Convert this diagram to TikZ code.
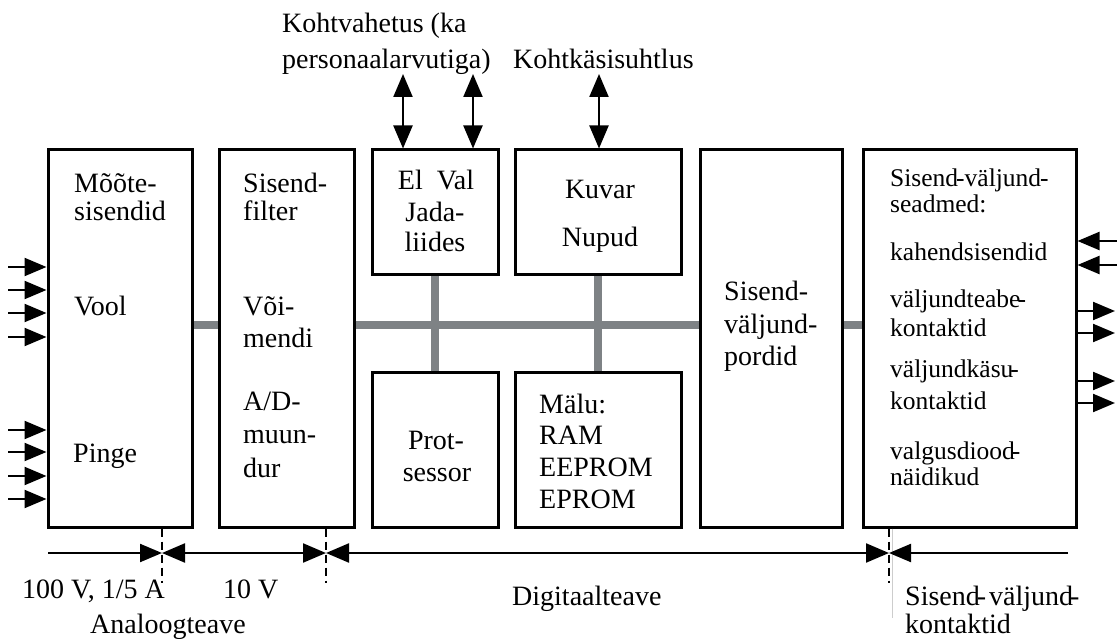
\documentclass[tikz,border=0pt]{standalone}
\usepackage{fontspec}
\setmainfont{Liberation Serif}
\usetikzlibrary{arrows.meta,positioning}
\definecolor{busgray}{RGB}{126,130,133}
\definecolor{thingray}{RGB}{205,205,205}
\newcommand{\bigfont}{\fontsize{28}{30}\selectfont}
\newcommand{\boxfont}{\fontsize{25.5}{28}\selectfont}

\begin{document}
\begin{tikzpicture}[x=1pt, y=-1pt,
    box/.style={draw, line width=3pt, inner sep=0pt},
    lbl/.style={anchor=base west, inner sep=0pt, font=\bigfont},
    clbl/.style={anchor=base, inner sep=0pt, font=\bigfont},
    slbl/.style={anchor=base west, inner sep=0pt, font=\boxfont},
    arr/.style={line width=2.2pt, -{Triangle[length=22pt,width=18pt]}},
    dblarr/.style={line width=2.2pt, {Triangle[length=23pt,width=19pt]}-{Triangle[length=23pt,width=19pt]}},
    bus/.style={line width=8pt, busgray},
    cutline/.style={line width=2pt, dash pattern=on 8pt off 5pt}]
  \useasboundingbox (0,0) rectangle (1117,639);

  % blocks
  \node[box, minimum width=144pt, minimum height=377pt] (mote) at (120,338.5) {};
  \node[box, minimum width=135pt, minimum height=377pt] (filter) at (286.5,338.5) {};
  \node[box, minimum width=126pt, minimum height=125pt] (jada) at (435,212.5) {};
  \node[box, minimum width=166pt, minimum height=125pt] (kuvar) at (598,212.5) {};
  \node[box, minimum width=126pt, minimum height=155pt] (prots) at (435,449.5) {};
  \node[box, minimum width=166pt, minimum height=155pt] (malu) at (598,449.5) {};
  \node[box, minimum width=142pt, minimum height=377pt] (pordid) at (771,338.5) {};
  \node[box, minimum width=213pt, minimum height=377pt] (seadmed) at (969.5,338.5) {};

  % bus
  \coordinate (siin) at (0,325);
  \draw[bus] (siin -| mote.east) -- (siin -| filter.west);
  \draw[bus] (siin -| filter.east) -- (siin -| pordid.west);
  \draw[bus] (siin -| pordid.east) -- (siin -| seadmed.west);
  \draw[bus] (jada.south) -- (prots.north);
  \draw[bus] (kuvar.south) -- (malu.north);

  % block texts
  \node[lbl] (mote1) at (74,193) {Mõõte-};
  \node[lbl] (mote2) at (74,221) {sisendid};
  \node[lbl] (vool) at (74,316) {Vool};
  \node[lbl] (pinge) at (73,462) {Pinge};
  \node[lbl] (filter1) at (243,193) {Sisend-};
  \node[lbl] (filter2) at (243,221) {filter};
  \node[lbl] (voim1) at (243,316) {Või-};
  \node[lbl] (voim2) at (243,347) {mendi};
  \node[lbl] (ad1) at (243,410) {A/D-};
  \node[lbl] (ad2) at (243,443) {muun-};
  \node[lbl] (ad3) at (243,477) {dur};
  \node[clbl] (jada1) at (436,190) {El\ \ Val};
  \node[clbl] (jada2) at (435,222) {Jada-};
  \node[clbl] (jada3) at (435,252) {liides};
  \node[clbl] (kuvar1) at (600,199) {Kuvar};
  \node[clbl] (kuvar2) at (600,247) {Nupud};
  \node[clbl] (prots1) at (436,449) {Prot-};
  \node[clbl] (prots2) at (437,481) {sessor};
  \node[lbl] (malu1) at (539,413) {Mälu:};
  \node[lbl] (malu2) at (539,444) {RAM};
  \node[lbl] (malu3) at (539,476) {EEPROM};
  \node[lbl] (malu4) at (539,508) {EPROM};
  \node[lbl] (pordid1) at (724,301) {Sisend-};
  \node[lbl] (pordid2) at (724,333) {väljund-};
  \node[lbl] (pordid3) at (724,365) {pordid};
  \node[slbl] (seadmed1) at (890,187) {Sisend\kern-2pt-väljund\kern-1pt-};
  \node[slbl] (seadmed2) at (890,213) {seadmed:};
  \node[slbl] (kahend) at (890,261) {kahendsisendid};
  \node[slbl] (teabe1) at (890,307) {väljundteabe\kern-3pt-};
  \node[slbl] (teabe2) at (890,336) {kontaktid};
  \node[slbl] (kasu1) at (890,377) {väljundkäsu\kern-3pt-};
  \node[slbl] (kasu2) at (890,409) {kontaktid};
  \node[slbl] (diood1) at (890,459) {valgusdiood\kern-3pt-};
  \node[slbl] (diood2) at (890,485) {näidikud};

  % inputs and outputs
  \foreach \y [count=\i] in {267,290,313,337,430,452,476,499} {
    \coordinate (sis\i) at (8,\y);
    \draw[arr] (sis\i) -- (sis\i -| mote.west);
  }
  \foreach \y [count=\i] in {241,265} {
    \coordinate (kin\i) at (1117,\y);
    \draw[arr] (kin\i) -- (kin\i -| seadmed.east);
  }
  \foreach \y [count=\i] in {311,333,381,403} {
    \coordinate (kout\i) at (1115,\y);
    \draw[arr] (kout\i -| seadmed.east) -- (kout\i);
  }

  % communication
  \coordinate (ext1) at (403,74);
  \coordinate (ext2) at (473,74);
  \coordinate (ext3) at (599,74);
  \foreach \j in {ext1,ext2} \draw[dblarr] (\j) -- (\j |- jada.north);
  \draw[dblarr] (ext3) -- (ext3 |- kuvar.north);
  \node[lbl] (kohtv1) at (282,33) {Kohtvahetus (ka};
  \node[lbl] (kohtv2) at (282,69) {personaalarvutiga)};
  \node[lbl] (kohtk) at (513,69) {Kohtkäsisuhtlus};

  % levels along the bottom
  \coordinate (mot) at (0,553);
  \coordinate (cut1) at (162,583);
  \coordinate (cut2) at (326,583);
  \coordinate (cut3) at (889,583);
  \coordinate (cut3b) at (892,618);
  \coordinate (motA) at (48,553);
  \coordinate (motB) at (1068,553);
  \draw[cutline] (cut1 |- mote.south) -- (cut1);
  \draw[cutline] (cut2 |- filter.south) -- (cut2);
  \draw[cutline] (cut3 |- seadmed.south) -- (cut3);
  \draw[thingray, line width=0.8pt] (cut3b |- seadmed.south) -- (cut3b);
  \draw[arr] (motA) -- (mot -| cut1);
  \draw[dblarr] (mot -| cut1) -- (mot -| cut2);
  \draw[dblarr] (mot -| cut2) -- (mot -| cut3);
  \draw[arr] (motB) -- (mot -| cut3);
  \node[lbl] (pinge100) at (22,598) {100 V, 1/5 A};
  \node[lbl] (pinge10) at (223,598) {10 V};
  \node[lbl] (analoog) at (90,633) {Analoogteave};
  \node[lbl] (digi) at (512,605) {Digitaalteave};
  \node[lbl] (kont1) at (905,605) {Sisend\kern-3pt-\kern3pt väljund\kern-3pt-};
  \node[lbl] (kont2) at (905,633) {kontaktid};
\end{tikzpicture}
\end{document}
